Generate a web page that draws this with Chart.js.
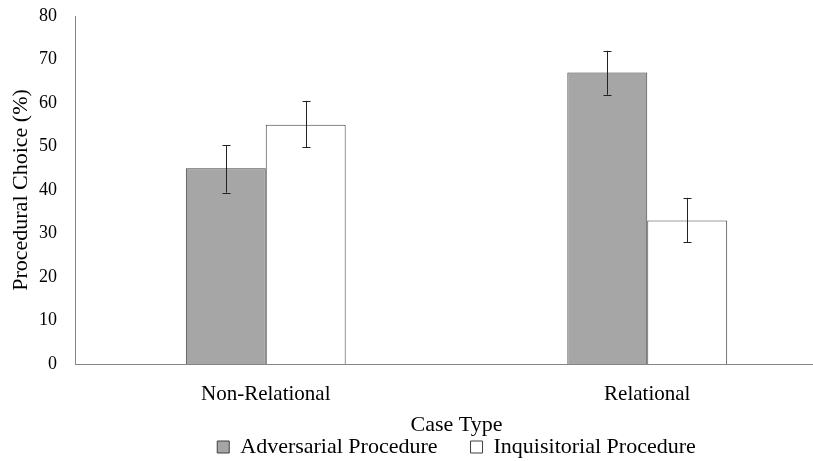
<!DOCTYPE html>
<html>
<head>
<meta charset="utf-8">
<script src="https://cdn.jsdelivr.net/npm/chart.js@4.4.1/dist/chart.umd.min.js"></script>
<style>
  html, body { margin: 0; padding: 0; background: #fff; }
  #wrap { width: 813px; height: 461px; overflow: hidden; position: relative; }
  #box { width: 846px; height: 468px; position: absolute; left: 0; top: 0; }
</style>
</head>
<body>
<div id="wrap"><div id="box"><canvas id="chart"></canvas></div></div>
<script>
const categories = ['Non-Relational', 'Relational'];
const adversarial = [45, 67];
const inquisitorial = [55, 33];
const adversarialLow = [39.4, 61.9];
const adversarialHigh = [50.3, 72];
const inquisitorialLow = [49.8, 28];
const inquisitorialHigh = [60.5, 38.2];

const serif = '"Liberation Serif", "DejaVu Serif", serif';

const errorBars = {
  id: 'errorBars',
  afterDatasetsDraw(chart) {
    const ctx = chart.ctx;
    const y = chart.scales.y;
    const ranges = [[adversarialLow, adversarialHigh], [inquisitorialLow, inquisitorialHigh]];
    ctx.save();
    ctx.strokeStyle = '#222';
    ctx.lineWidth = 1;
    ranges.forEach((r, di) => {
      chart.getDatasetMeta(di).data.forEach((bar, i) => {
        const x = Math.round(bar.x) + 0.5;
        const lo = y.getPixelForValue(r[0][i]);
        const hi = y.getPixelForValue(r[1][i]);
        ctx.beginPath();
        ctx.moveTo(x, lo); ctx.lineTo(x, hi);
        ctx.moveTo(x - 4, Math.round(lo) + 0.5); ctx.lineTo(x + 4, Math.round(lo) + 0.5);
        ctx.moveTo(x - 4, Math.round(hi) + 0.5); ctx.lineTo(x + 4, Math.round(hi) + 0.5);
        ctx.stroke();
      });
    });
    ctx.restore();
  }
};

new Chart(document.getElementById('chart').getContext('2d'), {
  type: 'bar',
  data: {
    labels: categories,
    datasets: [{
      label: 'Adversarial Procedure',
      data: adversarial,
      backgroundColor: '#a6a6a6',
      borderColor: '#3f3f3f',
      borderWidth: 1
    }, {
      label: 'Inquisitorial Procedure',
      data: inquisitorial,
      backgroundColor: '#ffffff',
      borderColor: '#3f3f3f',
      borderWidth: 1
    }]
  },
  options: {
    responsive: true,
    maintainAspectRatio: false,
    animation: false,
    layout: { padding: { top: 16, right: 8, left: 8, bottom: 0 } },
    datasets: { bar: { categoryPercentage: 0.419, barPercentage: 1 } },
    plugins: {
      tooltip: { enabled: false },
      legend: {
        position: 'bottom',
        fullSize: false,
        labels: {
          color: '#000',
          font: { family: serif, size: 22 },
          boxWidth: 12,
          boxHeight: 12,
          padding: 0,
          generateLabels(chart) {
            const items = Chart.defaults.plugins.legend.labels.generateLabels(chart);
            items.forEach((it, i) => { if (i < items.length - 1) it.text += '      '; });
            return items;
          }
        }
      }
    },
    scales: {
      x: {
        grid: { display: false, drawTicks: false },
        border: { color: '#868686', width: 1 },
        ticks: { color: '#000', font: { family: serif, size: 21 }, padding: 18 },
        title: { display: true, text: 'Case Type', color: '#000', font: { family: serif, size: 22 }, padding: { top: 4, bottom: -2 } },
        afterFit(scale) { scale.height = 72; }
      },
      y: {
        min: 0,
        max: 80,
        ticks: { stepSize: 10, color: '#000', font: { family: serif, size: 18 }, padding: 18 },
        grid: { display: false, drawTicks: false },
        border: { color: '#868686', width: 1 },
        title: { display: true, text: 'Procedural Choice (%)', color: '#000', font: { family: serif, size: 22 }, padding: { top: 0, bottom: 4 } },
        afterFit(scale) { scale.width = 67; scale.paddingTop = 0; scale.paddingBottom = 0; }
      }
    }
  },
  plugins: [errorBars]
});
</script>
</body>
</html>
